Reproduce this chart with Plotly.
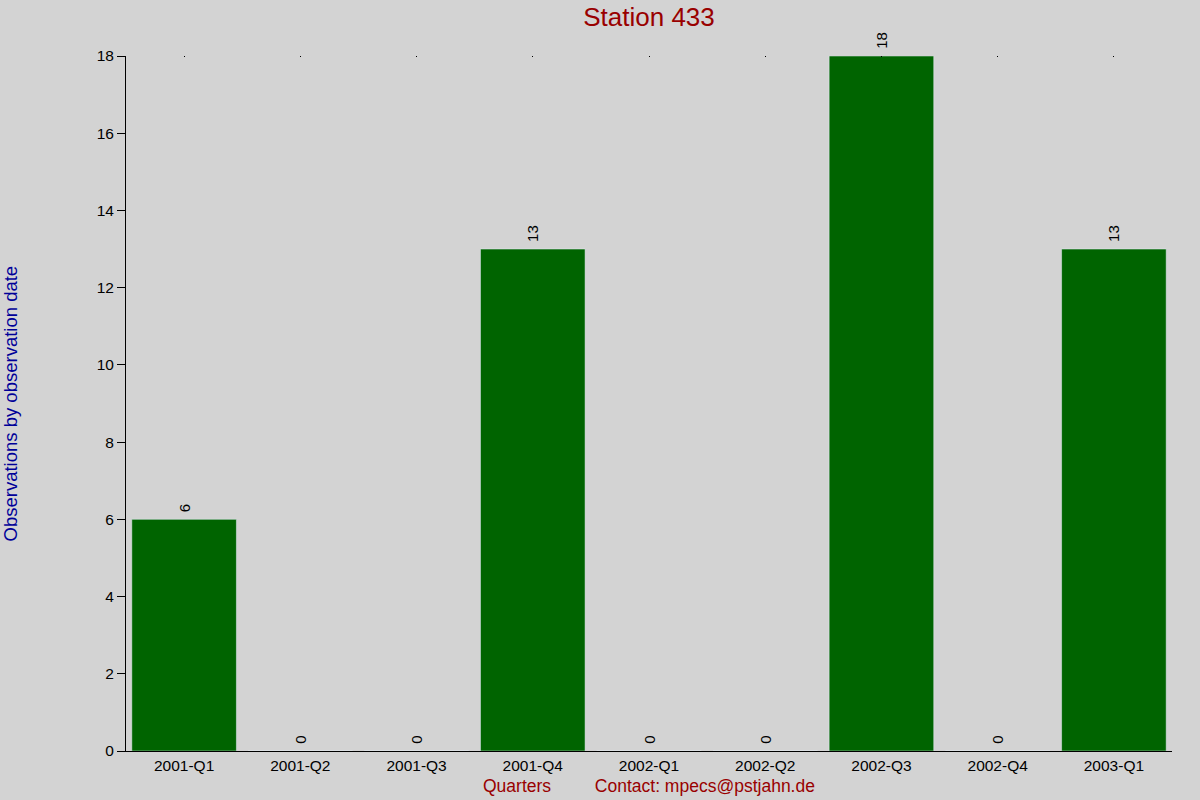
import plotly.graph_objects as go

# ── Data ──────────────────────────────────────────────
quarters = ["2001-Q1", "2001-Q2", "2001-Q3", "2001-Q4", "2002-Q1",
            "2002-Q2", "2002-Q3", "2002-Q4", "2003-Q1"]
observations = [6, 0, 0, 13, 0, 0, 18, 0, 13]

y_ticks = [0, 2, 4, 6, 8, 10, 12, 14, 16, 18]

BG = "#d3d3d3"
FONT = "Liberation Sans, Arial, sans-serif"

fig = go.Figure()

fig.add_trace(
    go.Bar(
        x=quarters,
        y=observations,
        marker=dict(color="#006400", line=dict(width=0)),
        texttemplate="\u00a0%{y}",
        textposition="outside",
        textangle=-90,
        textfont=dict(family=FONT, size=15, color="black"),
        cliponaxis=False,
        showlegend=False,
    )
)

# invisible copy on a top axis, only to get the little tick dots up there
fig.add_trace(
    go.Bar(
        x=quarters,
        y=observations,
        xaxis="x2",
        marker=dict(color="rgba(0,0,0,0)"),
        hoverinfo="skip",
        showlegend=False,
    )
)

fig.update_layout(
    width=1200,
    height=800,
    paper_bgcolor=BG,
    plot_bgcolor=BG,
    font=dict(family=FONT, size=15, color="black"),
    margin=dict(l=126, r=28, t=56, b=49, autoexpand=False),
    bargap=0.1,
    barmode="overlay",
    title=dict(
        text="Station 433",
        font=dict(family=FONT, size=26, color="#990000"),
        x=0.5,
        xref="paper",
        xanchor="center",
        y=0.979,
        yref="container",
        yanchor="middle",
    ),
    xaxis=dict(
        range=[-0.5, 8.5],
        showline=True,
        linecolor="black",
        linewidth=1,
        ticks="",
        showgrid=False,
        zeroline=False,
        automargin=False,
        tickfont=dict(size=15.5),
        fixedrange=True,
    ),
    xaxis2=dict(
        overlaying="x",
        side="top",
        range=[-0.5, 8.5],
        showticklabels=False,
        ticks="inside",
        ticklen=1,
        tickwidth=1,
        tickcolor="black",
        showline=False,
        showgrid=False,
        zeroline=False,
        automargin=False,
    ),
    yaxis=dict(
        range=[0, 18],
        tickvals=y_ticks,
        showline=True,
        linecolor="black",
        linewidth=1,
        ticks="outside",
        ticklen=8,
        tickcolor="black",
        showgrid=False,
        zeroline=False,
        automargin=False,
        tickfont=dict(size=15.5),
        fixedrange=True,
    ),
    annotations=[
        dict(
            text="Observations by observation date",
            textangle=-90,
            xref="paper",
            yref="paper",
            x=-0.11,
            y=0.5,
            xanchor="center",
            yanchor="middle",
            showarrow=False,
            font=dict(family=FONT, size=18.5, color="#000099"),
        ),
        dict(
            text="Quarters" + "\u00a0" * 9 + "Contact: mpecs@pstjahn.de",
            xref="paper",
            yref="paper",
            x=0.5,
            y=-0.0504,
            xanchor="center",
            yanchor="middle",
            showarrow=False,
            font=dict(family=FONT, size=17.5, color="#990000"),
        ),
    ],
)

# page body has a default 8px margin; drop it so the chart sits at 0,0
fig.write_html(
    "out.html",
    config={"displayModeBar": False},
    post_script="document.body.style.margin = '0';",
)
